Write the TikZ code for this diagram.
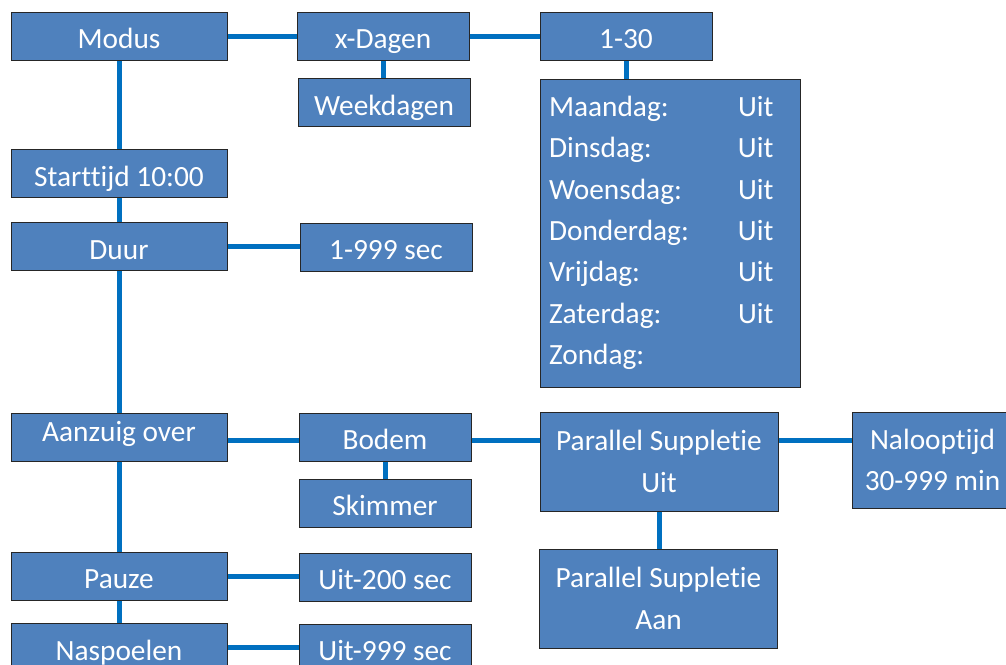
\documentclass[tikz,border=0pt]{standalone}
\usepackage{fontspec}
\setmainfont{Carlito}[Ligatures=NoCommon]
\definecolor{vakblauw}{HTML}{4F81BD}
\definecolor{lijnblauw}{HTML}{0070C0}
\newcommand{\dagregel}[2]{\makebox[141.75pt][l]{#1}#2}

\begin{document}
\begin{tikzpicture}[%
  x=0.75pt, y=-0.75pt, % one unit is one pixel of the screen design
  every node/.style={rectangle, draw=black!85, line width=0.75pt, fill=vakblauw, text=white, inner sep=0pt, font=\fontsize{22pt}{31pt}\selectfont},
  menu/.style={minimum width=162pt, minimum height=36pt, text height=18.75pt, text depth=0pt}, % left column
  keuze/.style={minimum width=129pt, minimum height=36pt, text height=18.75pt, text depth=0pt}, % options
  dubbel/.style={minimum width=178.5pt, minimum height=74.25pt, align=center}, % two lines
  verbinding/.style={draw=lijnblauw, line width=3.75pt} % connectors
]
\clip (0,0) rectangle (1006,664);
\fill[white] (0,0) rectangle (1006,664);

% Left column
\node [menu] (modus) at (119,36) {Modus};
\node [menu] (starttijd) at (119,173.5) {Starttijd 10:00};
\node [menu] (duur) at (119,246.5) {Duur};
\node [menu, text height=14.2pt, text depth=7.5pt] (aanzuig) at (119,437) {Aanzuig over};
\node [menu] (pauze) at (119,576) {Pauze};
\node [menu] (naspoelen) at (119,647.5) {Naspoelen};

% Second column
\node [keuze] (xdagen) at (383,36) {x-Dagen};
\node [keuze] (weekdagen) at (384,102.5) {Weekdagen};
\node [keuze] (sec999) at (386,247) {1-999 sec};
\node [keuze] (bodem) at (385,437) {Bodem};
\node [keuze] (skimmer) at (385,503) {Skimmer};
\node [keuze] (uit200) at (385,577) {Uit-200 sec};
\node [keuze] (uit999) at (385,648) {Uit-999 sec};

% Days
\node [keuze] (een30) at (626,36) {1-30};
\node [minimum width=195pt, minimum height=231pt, inner xsep=6.75pt, text width=181.5pt, align=left] (dagen) at (670,233) {%
  \dagregel{Maandag:}{Uit}\\
  \dagregel{Dinsdag:}{Uit}\\
  \dagregel{Woensdag:}{Uit}\\
  \dagregel{Donderdag:}{Uit}\\
  \dagregel{Vrijdag:}{Uit}\\
  \dagregel{Zaterdag:}{Uit}\\
  \dagregel{Zondag:}{}
};

% Suppletie
\node [dubbel] (psuit) at (659,461.5) {Parallel Suppletie\\Uit};
\node [dubbel] (psaan) at (658.5,598.5) {Parallel Suppletie\\Aan};
\node [dubbel, minimum width=120.75pt, minimum height=72pt] (nalooptijd) at (932.5,460) {Nalooptijd\\30-999 min};

% Connectors
\draw [verbinding] (modus.south) -- (starttijd.north);
\draw [verbinding] (starttijd.south) -- (duur.north);
\draw [verbinding] (duur.south) -- (aanzuig.north);
\draw [verbinding] (aanzuig.south) -- (pauze.north);
\draw [verbinding] (pauze.south) -- (naspoelen.north);
\draw [verbinding] (modus.east) -- (xdagen.west);
\draw [verbinding] (xdagen.east) -- (een30.west);
\draw [verbinding] (xdagen.south) -- (weekdagen.north -| xdagen.south);
\draw [verbinding] (een30.south) -- (dagen.north -| een30.south);
\draw [verbinding] (duur.east) -- (sec999.west |- duur.east);
\draw [verbinding] ([yshift=-2.25pt]aanzuig.east) -- ([yshift=-2.25pt]bodem.west);
\draw [verbinding] ([yshift=-2.25pt]bodem.east) -- ([yshift=-2.25pt]bodem.east -| psuit.west);
\draw [verbinding] ([yshift=-2.25pt]bodem.east -| psuit.east) -- ([yshift=-2.25pt]bodem.east -| nalooptijd.west);
\draw [verbinding] (bodem.south) -- (skimmer.north);
\draw [verbinding] (psuit.south) -- (psaan.north -| psuit.south);
\draw [verbinding] (pauze.east) -- (uit200.west |- pauze.east);
\draw [verbinding] (naspoelen.east) -- (uit999.west |- naspoelen.east);
\end{tikzpicture}
\end{document}
